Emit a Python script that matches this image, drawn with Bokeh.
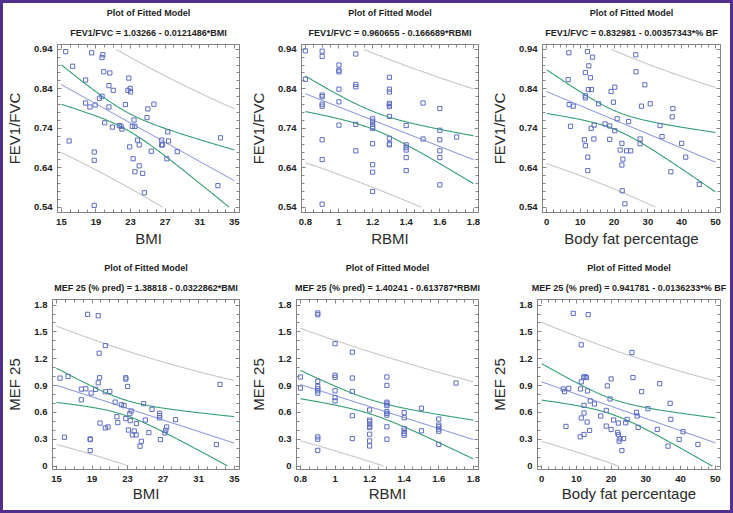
import numpy as np
from bokeh.plotting import figure
from bokeh.layouts import column, row
from bokeh.models import FixedTicker, LinearAxis, Title, Range1d
from bokeh.embed import file_html
from bokeh.resources import INLINE

# ---------------- data ----------------
bmi_fev_x = [15.5, 16.3, 18.5, 19.8, 19.7, 19.9, 20.6, 17.8, 22.8, 20.5, 21.0, 22.96, 22.7, 23.0, 19.7, 19.4,
             17.8, 18.3, 18.9, 20.5, 22.4, 25.7, 25.0, 24.9, 23.4, 20.0, 20.9, 21.7, 21.9, 22.0, 23.2, 23.5,
             15.9, 23.8, 24.0, 22.9, 26.6, 27.4, 27.3, 26.6, 26.7, 25.4, 28.4, 18.8, 18.8, 23.3, 27.2, 24.0,
             23.5, 24.4, 33.4, 33.1, 24.6, 18.8]
bmi_fev_y = [0.934, 0.897, 0.931, 0.926, 0.919, 0.883, 0.880, 0.862, 0.867, 0.848, 0.836, 0.841, 0.836, 0.832,
             0.821, 0.816, 0.804, 0.794, 0.799, 0.794, 0.800, 0.801, 0.789, 0.767, 0.761, 0.754, 0.743, 0.747,
             0.745, 0.738, 0.745, 0.745, 0.708, 0.710, 0.698, 0.693, 0.710, 0.708, 0.731, 0.698, 0.698, 0.682,
             0.681, 0.680, 0.659, 0.663, 0.663, 0.645, 0.630, 0.626, 0.716, 0.595, 0.577, 0.545]

rbmi_fev_x = [0.8, 0.8, 0.9, 0.9, 1.0, 1.0, 1.0, 1.1, 1.1, 1.1, 1.0, 0.9, 0.9, 0.9, 0.9, 1.0, 1.0, 1.1, 0.9,
              0.9, 0.9, 1.1, 1.2, 1.2, 1.2, 1.2, 1.2, 1.2, 1.2, 1.2, 1.2, 1.3, 1.3, 1.3, 1.3, 1.3, 1.3, 1.3,
              1.3, 1.3, 1.3, 1.4, 1.4, 1.4, 1.4, 1.4, 1.4, 1.5, 1.5, 1.6, 1.6, 1.6, 1.6, 1.6, 1.6, 1.7]
rbmi_fev_y = [0.936, 0.864, 0.935, 0.922, 0.900, 0.887, 0.883, 0.928, 0.851, 0.845, 0.839, 0.824, 0.820, 0.801,
              0.796, 0.807, 0.748, 0.750, 0.711, 0.661, 0.548, 0.683, 0.764, 0.758, 0.750, 0.744, 0.740, 0.701,
              0.648, 0.629, 0.580, 0.869, 0.839, 0.832, 0.803, 0.799, 0.795, 0.770, 0.715, 0.701, 0.698, 0.747,
              0.698, 0.691, 0.685, 0.666, 0.633, 0.804, 0.713, 0.790, 0.735, 0.711, 0.683, 0.666, 0.597, 0.718]

bf_fev_x = [12.1, 6.6, 13.6, 26.4, 12.5, 11.5, 13.0, 26.5, 6.4, 12.4, 13.3, 20.2, 19.1, 29.1, 11.5, 11.5, 6.7,
            7.9, 15.4, 19.8, 28.1, 30.7, 37.4, 37.2, 33.6, 34.2, 20.9, 24.3, 17.3, 14.1, 18.7, 13.2, 7.1, 20.2,
            11.2, 14.0, 18.7, 11.5, 22.3, 27.7, 27.7, 21.8, 23.7, 24.9, 22.6, 12.2, 22.3, 40.0, 41.2, 12.2, 36.8,
            45.2, 22.4, 23.2]
bf_fev_y = [0.934, 0.931, 0.920, 0.926, 0.898, 0.881, 0.868, 0.883, 0.863, 0.838, 0.838, 0.844, 0.833, 0.850,
            0.822, 0.817, 0.800, 0.796, 0.802, 0.806, 0.796, 0.802, 0.790, 0.769, 0.747, 0.719, 0.764, 0.757,
            0.751, 0.748, 0.746, 0.740, 0.745, 0.734, 0.711, 0.713, 0.712, 0.696, 0.702, 0.713, 0.701, 0.685,
            0.683, 0.683, 0.662, 0.667, 0.647, 0.702, 0.667, 0.633, 0.630, 0.598, 0.582, 0.549]

bmi_mef_x = [18.5, 19.7, 20.5, 19.8, 15.4, 16.3, 19.85, 19.7, 22.8, 22.8, 23.0, 17.8, 18.3, 19.4, 18.9, 20.5,
             21.0, 17.8, 21.6, 22.3, 22.6, 24.8, 25.75, 23.4, 23.25, 26.6, 26.6, 26.6, 21.8, 22.8, 23.3, 25.0,
             28.4, 19.9, 21.9, 24.0, 20.5, 20.8, 27.4, 27.3, 27.2, 25.4, 23.1, 23.75, 23.96, 23.55, 24.55, 24.4,
             26.7, 15.9, 18.8, 18.8, 18.8, 33.4, 33.0]
bmi_mef_y = [1.696, 1.681, 1.347, 1.262, 0.984, 1.002, 0.988, 0.932, 0.988, 0.973, 0.891, 0.861, 0.865, 0.858,
             0.817, 0.831, 0.835, 0.742, 0.716, 0.687, 0.676, 0.698, 0.635, 0.616, 0.587, 0.590, 0.565, 0.540,
             0.553, 0.531, 0.509, 0.516, 0.520, 0.482, 0.487, 0.476, 0.427, 0.438, 0.438, 0.401, 0.371, 0.375,
             0.404, 0.393, 0.349, 0.349, 0.278, 0.223, 0.297, 0.323, 0.304, 0.297, 0.174, 0.913, 0.241]

rbmi_mef_x = [0.8, 0.8, 0.9, 0.9, 0.9, 0.9, 0.9, 0.9, 0.9, 0.9, 0.9, 0.9, 1.0, 1.0, 1.0, 1.0, 1.0, 1.0,
              1.1, 1.1, 1.1, 1.1, 1.1, 1.2, 1.2, 1.2, 1.2, 1.2, 1.2, 1.2, 1.2, 1.2, 1.3, 1.3, 1.3, 1.3, 1.3,
              1.3, 1.3, 1.3, 1.3, 1.3, 1.4, 1.4, 1.4, 1.4, 1.4, 1.4, 1.5, 1.5, 1.6, 1.6, 1.6, 1.6, 1.6, 1.6, 1.7]
rbmi_mef_y = [0.996, 0.872, 1.711, 1.692, 0.947, 0.891, 0.865, 0.842, 0.816, 0.327, 0.301, 0.177, 1.368, 1.015,
              0.992, 0.842, 0.767, 0.729, 1.274, 0.985, 0.835, 0.564, 0.308, 0.628, 0.515, 0.496, 0.470, 0.447,
              0.432, 0.357, 0.282, 0.226, 0.996, 0.902, 0.714, 0.695, 0.677, 0.609, 0.590, 0.571, 0.440, 0.301,
              0.598, 0.541, 0.421, 0.391, 0.365, 0.346, 0.647, 0.395, 0.526, 0.459, 0.440, 0.414, 0.391, 0.244,
              0.929]

bf_mef_x = [9.1, 13.4, 11.4, 26.0, 12.1, 12.5, 12.9, 20.0, 26.3, 11.4, 18.9, 6.2, 6.6, 7.8, 11.2, 13.2, 28.8,
            19.7, 14.0, 15.2, 12.2, 18.6, 12.2, 17.0, 27.3, 27.5, 11.4, 20.7, 24.6, 24.2, 22.1, 13.1, 7.0, 18.6,
            27.8, 20.0, 13.8, 21.9, 22.1, 12.2, 11.1, 22.6, 23.6, 22.3, 23.1, 34.0, 37.0, 37.2, 30.6, 33.3, 36.4,
            39.6, 40.7, 45.0]
bf_mef_y = [1.707, 1.693, 1.356, 1.270, 0.995, 1.000, 0.990, 0.975, 0.990, 0.942, 0.897, 0.863, 0.833, 0.870,
            0.863, 0.841, 0.833, 0.751, 0.729, 0.695, 0.679, 0.623, 0.594, 0.561, 0.601, 0.561, 0.538, 0.516,
            0.522, 0.485, 0.482, 0.493, 0.444, 0.448, 0.433, 0.410, 0.399, 0.377, 0.351, 0.354, 0.328, 0.306,
            0.309, 0.280, 0.175, 0.922, 0.702, 0.523, 0.642, 0.411, 0.224, 0.299, 0.385, 0.243]

# fitted-model coefficients (intercept, slope) as printed in the titles
coef_bmi_fev = (1.03266, -0.0121486)
coef_rbmi_fev = (0.960655, -0.166689)
coef_bf_fev = (0.832981, -0.00357343)
coef_bmi_mef = (1.38818, -0.0322862)
coef_rbmi_mef = (1.40241, -0.613787)
coef_bf_mef = (0.941781, -0.0136233)

titles = [
    "FEV1/FVC = 1.03266 - 0.0121486*BMI",
    "FEV1/FVC = 0.960655 - 0.166689*RBMI",
    "FEV1/FVC = 0.832981 - 0.00357343*% BF",
    "MEF 25 (% pred) = 1.38818 - 0.0322862*BMI",
    "MEF 25 (% pred) = 1.40241 - 0.613787*RBMI",
    "MEF 25 (% pred) = 0.941781 - 0.0136233*% BF",
]

bmi_ticks = [15, 19, 23, 27, 31, 35]
bmi_labels = ["15", "19", "23", "27", "31", "35"]
rbmi_ticks = [0.8, 1.0, 1.2, 1.4, 1.6, 1.8]
rbmi_labels = ["0.8", "1", "1.2", "1.4", "1.6", "1.8"]
bf_ticks = [0, 10, 20, 30, 40, 50]
bf_labels = ["0", "10", "20", "30", "40", "50"]
fev_ticks = [0.54, 0.64, 0.74, 0.84, 0.94]
fev_labels = ["0.54", "0.64", "0.74", "0.84", "0.94"]
mef_ticks = [0, 0.3, 0.6, 0.9, 1.2, 1.5, 1.8]
mef_labels = ["0", "0.3", "0.6", "0.9", "1.2", "1.5", "1.8"]

T_CRIT = 2.007  # 95% two-sided t quantile, ~52 d.f.

# ---------------- styling ----------------
FONT = "Liberation Sans"
POINT = "#5d6ec6"
FIT = "#6f7ed8"
CONF = "#33a070"
PRED = "#c8c8c8"
FRAME = "#858585"
BORDER = "#50308c"


def style_axis(ax, ticks, labels, minor, show, tick_standoff=4, label_standoff=3):
    ax.ticker = FixedTicker(ticks=ticks, minor_ticks=minor)
    ax.axis_line_color = FRAME
    ax.major_tick_line_color = FRAME
    ax.minor_tick_line_color = FRAME
    ax.major_tick_in = 4
    ax.major_tick_out = 0
    ax.minor_tick_in = 3
    ax.minor_tick_out = 0
    if show:
        ax.major_label_overrides = dict(zip(ticks, labels))
        ax.major_label_text_font = FONT
        ax.major_label_text_font_style = "bold"
        ax.major_label_text_font_size = "9.5px"
        ax.major_label_text_color = "#222222"
        ax.major_label_standoff = tick_standoff
        ax.axis_label_text_font = FONT
        ax.axis_label_text_font_style = "normal"
        ax.axis_label_text_font_size = "15px"
        ax.axis_label_text_color = "#2b2b2b"
        ax.axis_label_standoff = label_standoff
    else:
        ax.major_label_text_font_size = "0px"
        ax.major_label_text_color = None
        ax.major_label_standoff = 0


def panel(x, y, coef, title2, xlab, ylab, xticks, xlabels, xstep, xr,
          yticks, ylabels, ystep, yr, w, h, bl, br, bt, bb, xlab_standoff):
    p = figure(width=w, height=h, x_range=Range1d(*xr), y_range=Range1d(*yr),
               output_backend="svg", toolbar_location=None, title=None,
               min_border_left=bl, min_border_right=br, min_border_top=bt,
               min_border_bottom=bb, background_fill_color="white",
               border_fill_color="white")
    p.grid.visible = False
    p.outline_line_color = FRAME

    xminor = list(np.arange(xticks[0], xticks[-1] + xstep / 2, xstep))
    yminor = list(np.arange(yticks[0], yticks[-1] + ystep / 2, ystep))
    style_axis(p.xaxis[0], xticks, xlabels, xminor, True, tick_standoff=6, label_standoff=xlab_standoff)
    style_axis(p.yaxis[0], yticks, ylabels, yminor, True, tick_standoff=5, label_standoff=8)
    p.xaxis.axis_label = xlab
    p.yaxis.axis_label = ylab

    top = LinearAxis()
    style_axis(top, xticks, xlabels, xminor, False)
    p.add_layout(top, "above")
    right = LinearAxis()
    style_axis(right, yticks, ylabels, yminor, False)
    p.add_layout(right, "right")

    p.add_layout(Title(text=title2, align="center", text_font=FONT, text_font_size="9px",
                       text_font_style="bold", text_color="#1e1e1e", standoff=14), "above")
    p.add_layout(Title(text="Plot of Fitted Model", align="center", text_font=FONT,
                       text_font_size="9px", text_font_style="bold", text_color="#1e1e1e",
                       standoff=2), "above")

    # regression bands from the data
    xa = np.asarray(x, dtype=float)
    ya = np.asarray(y, dtype=float)
    a, b = coef
    n = len(xa)
    s = np.sqrt(np.sum((ya - (a + b * xa)) ** 2) / (n - 2))
    xm = xa.mean()
    sxx = np.sum((xa - xm) ** 2)
    xs = np.linspace(xticks[0], xticks[-1], 240)
    fit = a + b * xs
    cm = T_CRIT * s * np.sqrt(1.0 / n + (xs - xm) ** 2 / sxx)
    pm = T_CRIT * s * np.sqrt(1.0 + 1.0 / n + (xs - xm) ** 2 / sxx)
    lo, hi = yticks[0], yticks[-1]

    def clip(v):
        return np.where((v >= lo) & (v <= hi), v, np.nan)

    p.line(xs, clip(fit + pm), line_color=PRED, line_width=1.1)
    p.line(xs, clip(fit - pm), line_color=PRED, line_width=1.1)
    p.line(xs, clip(fit + cm), line_color=CONF, line_width=1.1)
    p.line(xs, clip(fit - cm), line_color=CONF, line_width=1.1)
    p.line(xs, clip(fit), line_color=FIT, line_width=1.0)
    p.scatter(x, y, marker="square", size=4.2, fill_color=None, line_color=POINT, line_width=1)
    return p


W1, W2, W3 = 244, 241, 242
H1, H2 = 255, 252
fev_r = (0.527, 0.952)
mef_r = (-0.037, 1.862)
p1 = panel(bmi_fev_x, bmi_fev_y, coef_bmi_fev, titles[0], "BMI", "FEV1/FVC",
           bmi_ticks, bmi_labels, 1, (14.55, 35.6), fev_ticks, fev_labels, 0.02, fev_r,
           W1, H1, 48, 8, 41, 46, 2)
p2 = panel(rbmi_fev_x, rbmi_fev_y, coef_rbmi_fev, titles[1], "RBMI", "FEV1/FVC",
           rbmi_ticks, rbmi_labels, 0.05, (0.777, 1.83), fev_ticks, fev_labels, 0.02, fev_r,
           W2, H1, 44, 10, 41, 46, 2)
p3 = panel(bf_fev_x, bf_fev_y, coef_bf_fev, titles[2], "Body fat percentage", "FEV1/FVC",
           bf_ticks, bf_labels, 2, (-1.2, 51.5), fev_ticks, fev_labels, 0.02, fev_r,
           W3, H1, 45, 10, 41, 46, 2)
p4 = panel(bmi_mef_x, bmi_mef_y, coef_bmi_mef, titles[3], "BMI", "MEF 25",
           bmi_ticks, bmi_labels, 1, (14.55, 35.6), mef_ticks, mef_labels, 0.1, mef_r,
           W1, H2, 48, 8, 41, 41, 0)
p5 = panel(rbmi_mef_x, rbmi_mef_y, coef_rbmi_mef, titles[4], "RBMI", "MEF 25",
           rbmi_ticks, rbmi_labels, 0.05, (0.777, 1.83), mef_ticks, mef_labels, 0.1, mef_r,
           W2, H2, 44, 10, 41, 41, 0)
p6 = panel(bf_mef_x, bf_mef_y, coef_bf_mef, titles[5], "Body fat percentage", "MEF 25",
           bf_ticks, bf_labels, 2, (-1.2, 51.5), mef_ticks, mef_labels, 0.1, mef_r,
           W3, H2, 45, 10, 41, 41, 0)

layout = column(row(p1, p2, p3), row(p4, p5, p6),
                styles={"margin": "3px", "outline": f"3px solid {BORDER}"})

open("out.html", "w").write(file_html(layout, INLINE))
